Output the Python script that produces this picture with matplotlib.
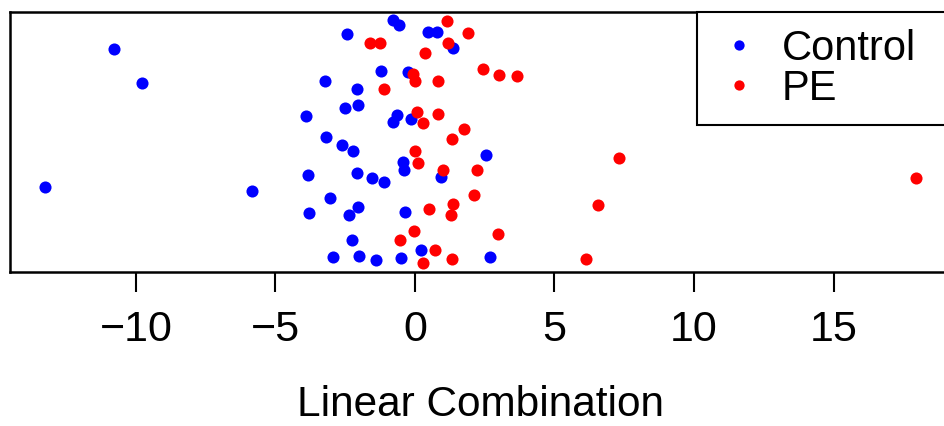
import numpy as np
import matplotlib.pyplot as plt

plt.rcParams['font.family'] = ['Liberation Sans', 'DejaVu Sans']

# Linear combination scores (x) and vertical jitter (y) per group
control_x = [-10.79, -9.78, -13.26, -5.84, -2.44, -0.79, -0.57, -1.22, -3.23, -2.08,
             -2.51, -2.04, -3.91, -0.79, -0.65, -3.19, 0.47, 0.79, 1.36, -0.25,
             -2.62, -2.22, -3.84, -2.08, -1.54, -1.11, -0.43, -0.40, 2.54, 0.93,
             -3.05, -3.80, -2.04, -2.37, -0.36, -2.26, 0.22, -2.94, -2.01, -1.40,
             -0.50, 2.69, -0.14]
control_y = [0.858, 0.727, 0.327, 0.312, 0.915, 0.969, 0.950, 0.773, 0.735, 0.704,
             0.631, 0.642, 0.600, 0.577, 0.604, 0.519, 0.923, 0.923, 0.862, 0.769,
             0.488, 0.465, 0.373, 0.381, 0.362, 0.346, 0.423, 0.392, 0.450, 0.365,
             0.285, 0.227, 0.250, 0.219, 0.231, 0.123, 0.085, 0.058, 0.062, 0.046,
             0.054, 0.058, 0.588]

pe_x = [-1.61, -1.25, -1.11, 1.15, 1.90, 1.18, 0.36, -0.07, 0.00, 0.82,
        2.44, 3.01, 3.66, 0.07, 0.29, 0.82, 1.76, 1.33, 0.00, 0.11,
        1.00, 2.22, 2.11, 0.50, 1.36, 1.29, -0.04, 2.97, -0.54, 0.72,
        0.29, 1.33, 7.31, 6.56, 6.13, 17.96]
pe_y = [0.881, 0.881, 0.704, 0.965, 0.919, 0.881, 0.842, 0.762, 0.735, 0.735,
        0.781, 0.758, 0.754, 0.615, 0.573, 0.608, 0.550, 0.512, 0.465, 0.419,
        0.392, 0.392, 0.296, 0.242, 0.262, 0.219, 0.158, 0.146, 0.123, 0.085,
        0.035, 0.050, 0.438, 0.258, 0.050, 0.362]

fig = plt.figure(figsize=(9.44, 4.26), dpi=100)
ax = fig.add_axes([0.0106, 0.3615, 0.9968, 0.6103])

ax.plot(control_x, control_y, 'o', color='blue', ms=8.7, mew=0, label='Control')
ax.plot(pe_x, pe_y, 'o', color='red', ms=8.7, mew=0, label='PE')

# R-style 4% padding around the data range
allx = np.array(control_x + pe_x)
rng = allx.max() - allx.min()
ax.set_xlim(allx.min() - 0.04 * rng, allx.max() + 0.04 * rng)
ax.set_ylim(0, 1)

ax.set_xticks([-10, -5, 0, 5, 10, 15])
ax.set_xticklabels(['\u221210', '\u22125', '0', '5', '10', '15'])
ax.set_yticks([])
ax.tick_params(axis='x', labelsize=31, length=14.5, width=1.5, pad=13)
for s in ax.spines.values():
    s.set_linewidth(1.8)

ax.set_xlabel('Linear Combination', fontsize=30.5, labelpad=25)

leg = ax.legend(loc='upper right', bbox_to_anchor=(0.730, 0.5, 0.270, 0.5),
                mode='expand', fontsize=30, frameon=True, fancybox=False,
                borderaxespad=0, borderpad=0.4, labelspacing=0.0,
                handlelength=1.21, handletextpad=0.43, markerscale=0.85)
leg.get_frame().set_edgecolor('black')
leg.get_frame().set_linewidth(1.5)
leg.get_frame().set_alpha(1)

fig.savefig('out.png', dpi=100)
